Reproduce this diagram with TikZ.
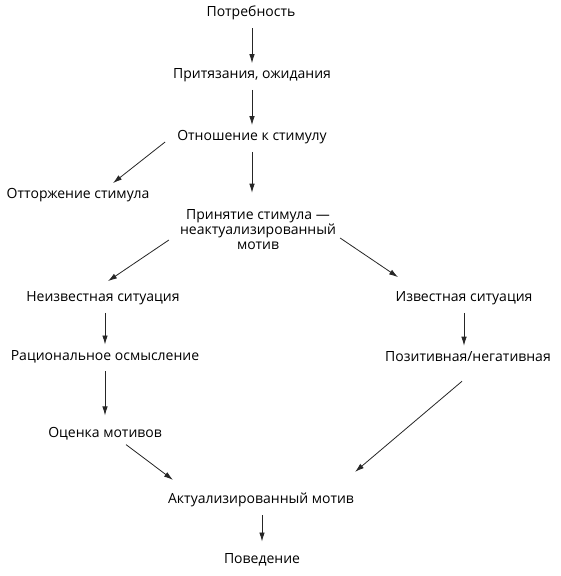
\documentclass[tikz,border=0pt]{standalone}
\usepackage{fontspec}
\setmainfont{Open Sans}
\usetikzlibrary{arrows.meta}

\tikzset{
  lbl/.style={font=\fontsize{14}{15}\selectfont, text=black, align=center, inner sep=2pt},
  arr/.style={draw=black!85, line width=0.8pt, -{Latex[length=9pt,width=5.5pt]}},
}

\begin{document}
\begin{tikzpicture}[x=1pt,y=1pt]
\useasboundingbox[fill=white] (0,0) rectangle (561,-576);

% Nodes
\node[lbl] (need) at (251,-13) {Потребность};
\node[lbl] (claim) at (252,-75) {Притязания, ожидания};
\node[lbl] (rel) at (252,-137) {Отношение к стимулу};
\node[lbl] (rej) at (78,-195) {Отторжение стимула};
\node[lbl] (acc) at (258,-230) {Принятие стимула ---\\неактуализированный\\мотив};
\node[lbl] (unk) at (103,-298) {Неизвестная ситуация};
\node[lbl] (kno) at (464,-298) {Известная ситуация};
\node[lbl] (rat) at (105,-357) {Рациональное осмысление};
\node[lbl] (pn) at (468,-357) {Позитивная/негативная};
\node[lbl] (eval) at (105,-434) {Оценка мотивов};
\node[lbl] (act) at (261,-500) {Актуализированный мотив};
\node[lbl] (beh) at (262,-560) {Поведение};

% Vertical arrows
\draw[arr, shorten <=6pt, shorten >=3pt] (need.south -| claim) -- (claim.north);
\draw[arr, shorten <=6pt, shorten >=3pt] (claim) -- (rel);
\draw[arr, shorten <=6pt, shorten >=15pt] (rel.south) -- (rel.south |- acc.north);
\draw[arr, shorten <=6pt, shorten >=4pt] (unk.south -| rat) -- (rat.north);
\draw[arr, shorten <=6pt, shorten >=10pt] (rat) -- (eval);
\draw[arr, shorten <=6pt, shorten >=4pt] (kno.south -| kno) -- (kno.south |- pn.north);
\draw[arr, shorten <=6pt, shorten >=10pt] (act.south -| beh) -- (beh.north);

% Diagonal arrows
\draw[arr] ([xshift=-10pt,yshift=-5pt]rel.west) -- ([xshift=35pt,yshift=3pt]rej.north);
\draw[arr] ([xshift=-9pt,yshift=-10pt]acc.west) -- ([xshift=5pt,yshift=8pt]unk.north);
\draw[arr] ([xshift=2pt,yshift=-8pt]acc.east) -- ([xshift=-66pt,yshift=12pt]kno.north);
\draw[arr] ([xshift=21pt,yshift=-2pt]eval.south) -- ([xshift=7pt,yshift=11pt]act.north west);
\draw[arr] ([xshift=-6pt,yshift=-17pt]pn.south) -- ([xshift=-1pt,yshift=19pt]act.north east);
\end{tikzpicture}
\end{document}
